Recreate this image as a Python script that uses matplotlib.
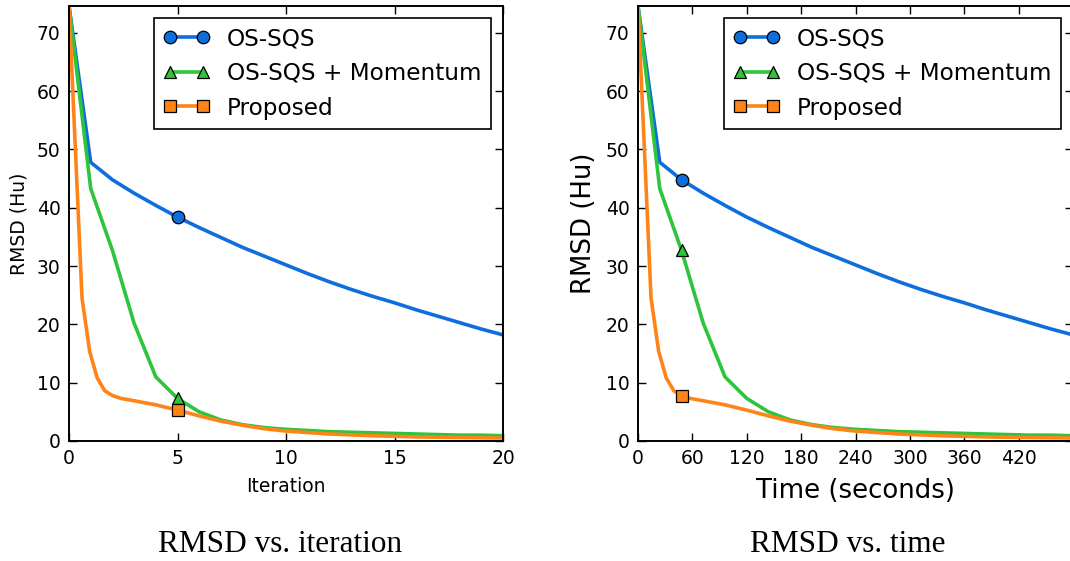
import matplotlib
matplotlib.use("Agg")
import matplotlib.pyplot as plt
import numpy as np

# ---- data ----
labels = ["OS-SQS", "OS-SQS + Momentum", "Proposed"]
colors = ["#0e6fdc", "#2ec43c", "#ff8418"]
markers = ["o", "^", "s"]

sqs_iter = [0, 1, 2, 3, 4, 5, 6, 7, 8, 9, 10, 11, 12, 13, 14, 15, 16, 17, 18, 19, 20]
sqs_rmsd = [74.6, 47.8, 44.8, 42.5, 40.4, 38.4, 36.6, 34.9, 33.2, 31.7, 30.2,
            28.7, 27.3, 26.0, 24.8, 23.7, 22.5, 21.4, 20.3, 19.2, 18.2]

mom_iter = [0, 1, 2, 3, 4, 5, 6, 7, 8, 9, 10, 11, 12, 13, 14, 15, 16, 17, 18, 19, 20]
mom_rmsd = [74.6, 43.3, 32.7, 20.2, 11.0, 7.3, 5.0, 3.6, 2.8, 2.3, 2.0,
            1.8, 1.6, 1.5, 1.4, 1.3, 1.2, 1.1, 1.0, 1.0, 0.9]

prop_iter = [0, 0.6, 0.95, 1.3, 1.65, 2.0, 2.4, 3, 4, 5, 6, 7, 8, 9, 10, 12, 14, 16, 18, 20]
prop_rmsd = [74.6, 24.5, 15.4, 10.8, 8.6, 7.8, 7.3, 6.9, 6.2, 5.3, 4.3, 3.4, 2.7,
             2.1, 1.7, 1.2, 0.9, 0.7, 0.6, 0.5]

seconds_per_iter = 24  # time axis = iteration * seconds per iteration

iter_ticks = [0, 5, 10, 15, 20]
time_ticks = [0, 60, 120, 180, 240, 300, 360, 420]
y_ticks = [0, 10, 20, 30, 40, 50, 60, 70]

marker_iter_left = 5
marker_iter_right = 2

series = [(sqs_iter, sqs_rmsd), (mom_iter, mom_rmsd), (prop_iter, prop_rmsd)]

# ---- figure ----
W, H = 1070, 561
fig = plt.figure(figsize=(W / 100, H / 100), dpi=100)

ax1 = fig.add_axes([69 / W, 120 / H, 434 / W, 435 / H])
ax2 = fig.add_axes([638 / W, 120 / H, 435 / W, 435 / H])

ymax = max(s[1][0] for s in series)

for ax, scale, mk_it in [(ax1, 1, marker_iter_left), (ax2, seconds_per_iter, marker_iter_right)]:
    for (it, r), lab, c, m in zip(series, labels, colors, markers):
        x = np.array(it, dtype=float) * scale
        idx = [int(np.argmin(np.abs(np.array(it) - mk_it)))]
        ax.plot(x, r, color=c, lw=2.6, marker=m, markevery=idx, markersize=9,
                markerfacecolor=c, markeredgecolor="black", markeredgewidth=0.9,
                label=lab, solid_capstyle="butt", clip_on=True)
    ax.set_ylim(0, ymax)
    ax.set_yticks(y_ticks)
    ax.tick_params(direction="in", length=6, width=1.0, top=True, right=True,
                   labelsize=13.5, pad=6)
    for sp in ax.spines.values():
        sp.set_linewidth(1.4)
    leg = ax.legend(loc="upper right", fontsize=16.7, numpoints=2, fancybox=False,
                    framealpha=1, edgecolor="black", labelspacing=0.5, borderpad=0.42,
                    handlelength=2.0, handletextpad=0.75, borderaxespad=0.5)
    leg.get_frame().set_linewidth(1.2)

ax1.set_xlim(0, 20)
ax1.set_xticks(iter_ticks)
ax1.set_xlabel("Iteration", fontsize=13.5, labelpad=6)
ax1.set_ylabel("RMSD (Hu)", fontsize=13.5, labelpad=6)

ax2.set_xlim(0, 480)
ax2.set_xticks(time_ticks)
ax2.set_xlabel("Time (seconds)", fontsize=18.7, labelpad=7)
ax2.set_ylabel("RMSD (Hu)", fontsize=18.7, labelpad=6)

fig.text(280 / W, 1 - 544 / H, "RMSD vs. iteration", fontsize=22.5,
         family="Liberation Serif", ha="center", va="center")
fig.text(848 / W, 1 - 544 / H, "RMSD vs. time", fontsize=22.5,
         family="Liberation Serif", ha="center", va="center")

fig.savefig("out.png", dpi=100)
